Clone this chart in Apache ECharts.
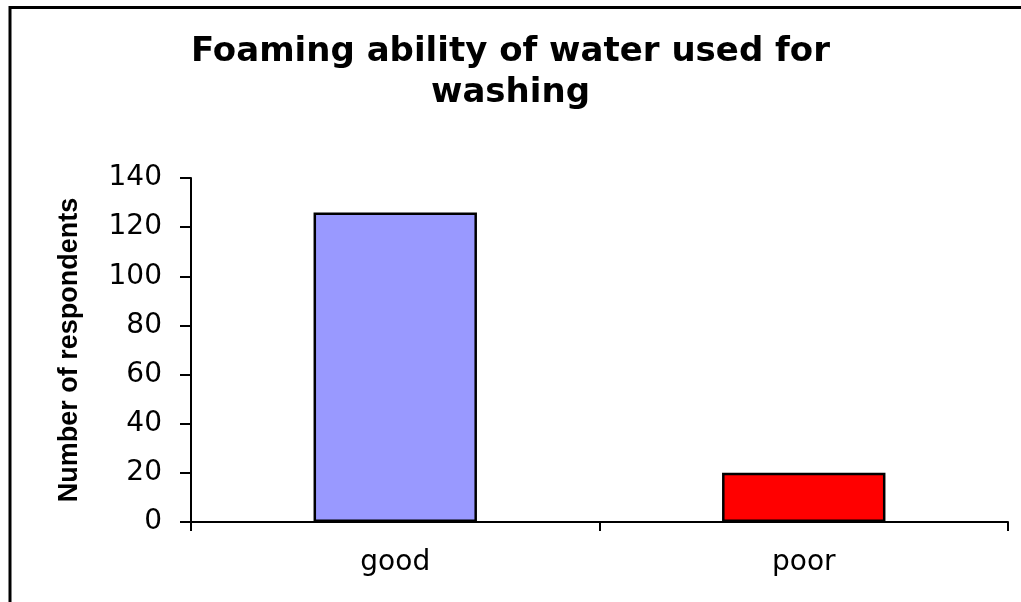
<!DOCTYPE html>
<html>
<head>
<meta charset="utf-8">
<script src="https://cdn.jsdelivr.net/npm/echarts@6/dist/echarts.min.js"></script>
<style>
html,body{margin:0;padding:0;background:#fff;}
#chart{width:1021px;height:602px;}
</style>
</head>
<body>
<div id="chart"></div>
<script>
const titleText = 'Foaming ability of water used for\nwashing';
const yAxisName = 'Number of respondents';
const categories = ['good', 'poor'];
const values = [126, 20];
const barColors = ['#9999FF', '#FF0000'];

const chart = echarts.init(document.getElementById('chart'), null, {renderer: 'canvas'});
chart.setOption({
  animation: false,
  backgroundColor: '#ffffff',
  title: {
    text: titleText,
    left: 'center',
    top: 27,
    textStyle: {
      fontFamily: 'DejaVu Sans',
      fontWeight: 'bold',
      fontSize: 34,
      lineHeight: 41,
      color: '#000'
    }
  },
  graphic: [{
    type: 'rect',
    silent: true,
    shape: {x: 10, y: 7.5, width: 1200, height: 800},
    style: {fill: 'none', stroke: '#000', lineWidth: 3}
  }],
  grid: {left: 191, top: 178, right: 13, bottom: 80, containLabel: false},
  xAxis: {
    type: 'category',
    data: categories,
    axisLine: {show: true, lineStyle: {color: '#000', width: 2}},
    axisTick: {show: true, length: 9, lineStyle: {color: '#000', width: 2}},
    axisLabel: {margin: 27, fontFamily: 'DejaVu Sans', fontSize: 28, color: '#000'}
  },
  yAxis: {
    type: 'value',
    min: 0,
    max: 140,
    interval: 20,
    name: yAxisName,
    nameLocation: 'middle',
    nameGap: 108,
    nameTextStyle: {fontFamily: "'Liberation Sans', Arial", fontWeight: 'bold', fontSize: 27, color: '#000'},
    splitLine: {show: false},
    axisLine: {show: true, lineStyle: {color: '#000', width: 2}},
    axisTick: {show: true, length: 11, lineStyle: {color: '#000', width: 2}},
    axisLabel: {margin: 29, fontFamily: 'DejaVu Sans', fontSize: 28, color: '#000'}
  },
  series: [{
    type: 'bar',
    barWidth: '40%',
    data: values.map((v, i) => ({value: v, itemStyle: {color: barColors[i]}})),
    itemStyle: {borderColor: '#000', borderWidth: 2.5}
  }]
});
</script>
</body>
</html>
